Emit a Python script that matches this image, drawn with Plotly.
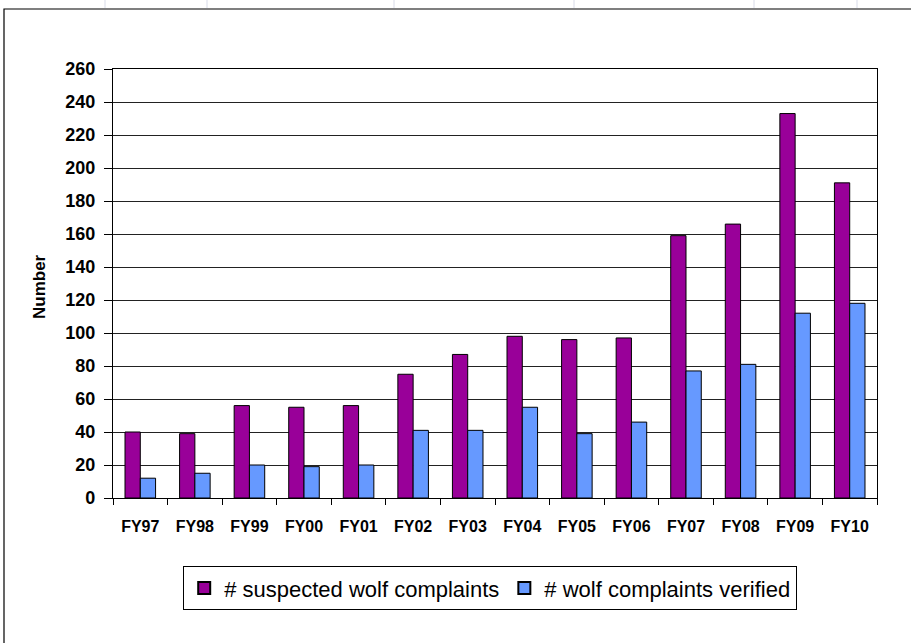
import plotly.graph_objects as go

categories = ["FY97", "FY98", "FY99", "FY00", "FY01", "FY02", "FY03",
              "FY04", "FY05", "FY06", "FY07", "FY08", "FY09", "FY10"]
suspected = [40, 39, 56, 55, 56, 75, 87, 98, 96, 97, 159, 166, 233, 191]
verified = [12, 15, 20, 19, 20, 41, 41, 55, 39, 46, 77, 81, 112, 118]
y_ticks = list(range(0, 261, 20))

W, H = 911, 643
L, R, T, B = 113, 877, 69, 498
pw, ph = R - L, B - T

def px(x):
    return (x - L) / pw

def py(y):
    return (B - y) / ph

FONT = "Liberation Sans, Arial, sans-serif"

fig = go.Figure()
fig.add_trace(go.Bar(x=categories, y=suspected, name="# suspected wolf complaints",
                     marker=dict(color="#990099", line=dict(color="#000000", width=1))))
fig.add_trace(go.Bar(x=categories, y=verified, name="# wolf complaints verified",
                     marker=dict(color="#6699FF", line=dict(color="#000000", width=1))))

shapes = [
    dict(type="rect", xref="paper", yref="paper",
         x0=px(4), x1=px(920), y0=py(660), y1=py(9),
         line=dict(color="#000000", width=1.2), fillcolor="rgba(0,0,0,0)", layer="below"),
]
for gx in [105, 207, 394, 574, 754, 857]:
    shapes.append(dict(type="line", xref="paper", yref="paper",
                       x0=px(gx), x1=px(gx), y0=py(0), y1=py(8),
                       line=dict(color="#d8dbe8", width=1)))

fig.update_layout(
    width=W, height=H,
    margin=dict(l=L, r=W - R, t=T, b=H - B),
    paper_bgcolor="white", plot_bgcolor="white",
    barmode="group", bargap=0.44, bargroupgap=0,
    font=dict(family=FONT, color="#000000"),
    showlegend=True,
    legend=dict(orientation="h", x=px(490), xanchor="center", y=py(566), yanchor="top",
                bordercolor="#000000", borderwidth=1.2, bgcolor="white",
                font=dict(size=22, family=FONT), itemsizing="constant",
                itemwidth=30, tracegroupgap=0),
    shapes=shapes,
    annotations=[dict(text="<b>Number</b>", xref="paper", yref="paper",
                      x=px(39), y=py(287), xanchor="center", yanchor="middle",
                      textangle=-90, showarrow=False,
                      font=dict(size=17, family=FONT))],
)
fig.update_yaxes(range=[0, 260], tickvals=y_ticks, ticktext=[f"<b>{v}</b>" for v in y_ticks],
                 showgrid=True, gridcolor="#222222", gridwidth=1,
                 showline=True, linecolor="#000000", linewidth=1.2, mirror=True,
                 ticks="outside", ticklen=8, tickcolor="#000000",
                 tickfont=dict(size=18, family=FONT), zeroline=False,
                 ticklabelstandoff=5)
fig.update_xaxes(tickvals=categories, ticktext=[f"<b>{c}</b>" for c in categories],
                 tickson="boundaries", ticks="outside", ticklen=6, tickcolor="#000000",
                 showline=True, linecolor="#000000", linewidth=1.2, mirror=True,
                 showgrid=False, tickfont=dict(size=16, family=FONT), ticklabelstandoff=14)

fig.write_html("out.html", config={"displayModeBar": False},
               post_script="document.body.style.margin='0';document.body.style.overflow='hidden';")
